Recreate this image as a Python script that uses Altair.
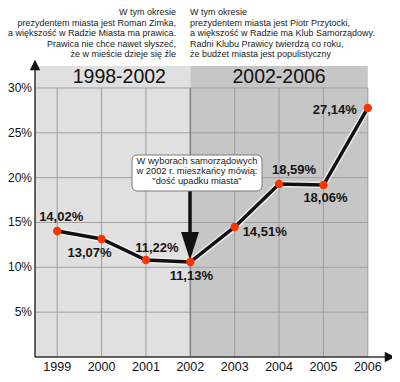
import altair as alt
import pandas as pd

# ---- data ----
years = [1999, 2000, 2001, 2002, 2003, 2004, 2005, 2006]
support = [14.05, 13.16, 10.82, 10.59, 14.50, 19.29, 19.18, 27.77]
support_labels = ["14,02%", "13,07%", "11,22%", "11,13%", "14,51%", "18,59%", "18,06%", "27,14%"]

y_ticks = [5, 10, 15, 20, 25, 30]
y_tick_labels = ["5%", "10%", "15%", "20%", "25%", "30%"]

period_names = ["1998-2002", "2002-2006"]
period_start = [1998.5, 2002]
period_end = [2002, 2006]
period_label_x = [2000.4, 2004.0]

left_note = ["W tym okresie", "prezydentem miasta jest Roman Zimka,",
             "a większość w Radzie Miasta ma prawica.",
             "Prawica nie chce nawet słyszeć,", "że w mieście dzieje się źle"]
right_note = ["W tym okresie", "prezydentem miasta jest Piotr Przytocki,",
              "a większość w Radzie ma Klub Samorządowy.",
              "Radni Klubu Prawicy twierdzą co roku,",
              "że budżet miasta jest populistyczny"]
box_note = ["W wyborach samorządowych", "w 2002 r. mieszkańcy mówią:",
            "\"dość upadku miasta\""]

# ---- styling ----
label_offsets = [(4, -14), (-12, 14), (11, -12), (1, 14), (30, 5), (15, -14), (2, 13), (-33, 2)]
period_colors = ["#e0e0e0", "#c6c6c6"]
FONT = "Liberation Sans"
X_MIN, X_MAX = 1998.5, 2006.5
Y_MAX = 33.12
BAND_TOP = 32.45
HEADER_Y = 31.23

xs = alt.Scale(domain=[X_MIN, X_MAX], nice=False, zero=False)
ys = alt.Scale(domain=[0, Y_MAX], nice=False, zero=False)


def X(f):
    return alt.X(f, type="quantitative", scale=xs, axis=None)


def Y(f):
    return alt.Y(f, type="quantitative", scale=ys, axis=None)


df = pd.DataFrame({"year": years, "support": support, "label": support_labels})
bands = pd.DataFrame({"name": period_names, "start": period_start, "end": period_end,
                      "mid": period_label_x, "color": period_colors})
bands["top"] = BAND_TOP
bands["bottom"] = 0
bands["hy"] = HEADER_Y
vgrid = pd.DataFrame({"year": years, "bottom": 0, "top": 30})
hgrid = pd.DataFrame({"v": y_ticks, "lab": y_tick_labels, "x0": X_MIN, "x1": 2006})
xt = pd.DataFrame({"year": years, "lab": [str(y) for y in years], "zero": 0})
one = pd.DataFrame({"k": [0]})

layers = []

layers.append(alt.Chart(bands).mark_rect().encode(
    x=X("start"), x2="end", y=Y("bottom"), y2="top",
    color=alt.Color("color:N", scale=None)))

layers.append(alt.Chart(hgrid).mark_rule(color="#a0a0a0", strokeWidth=1).encode(
    x=X("x0"), x2="x1", y=Y("v")))

layers.append(alt.Chart(vgrid).transform_filter(alt.datum.year != 2002).mark_rule(
    color="#9c9c9c", strokeWidth=1).encode(x=X("year"), y=Y("bottom"), y2="top"))
layers.append(alt.Chart(vgrid).transform_filter(alt.datum.year == 2002).mark_rule(
    color="#808080", strokeWidth=1.5).encode(x=X("year"), y=Y("bottom"), y2="top"))

layers.append(alt.Chart(bands).mark_text(font=FONT, fontSize=19.5, color="#111",
                                         baseline="middle").encode(
    x=X("mid"), y=Y("hy"), text="name:N"))

# axes
layers.append(alt.Chart(one).mark_rule(color="#333", strokeWidth=1.5).encode(
    x=alt.value(0), y=alt.value(297), x2=alt.value(352)))
layers.append(alt.Chart(one).mark_rule(color="#333", strokeWidth=1.5).encode(
    x=alt.value(0), y=alt.value(297), y2=alt.value(6)))
layers.append(alt.Chart(one).mark_point(shape="M-1,-1L1,0L-1,1Z", filled=True,
                                        color="#111", opacity=1, size=110).encode(
    x=alt.value(355), y=alt.value(297)))
layers.append(alt.Chart(one).mark_point(shape="M-1,1L0,-1L1,1Z", filled=True,
                                        color="#111", opacity=1, size=110).encode(
    x=alt.value(0), y=alt.value(5)))

# tick labels
layers.append(alt.Chart(hgrid).mark_text(font=FONT, fontSize=12, color="#111", align="right",
                                         baseline="middle", dx=-3).encode(
    x=X("x0"), y=Y("v"), text="lab:N"))
layers.append(alt.Chart(xt).mark_text(font=FONT, fontSize=12.5, color="#111", align="center",
                                      baseline="middle", dy=10).encode(
    x=X("year"), y=Y("zero"), text="lab:N"))

# data line
layers.append(alt.Chart(df).mark_line(color="#f4f4f4", strokeWidth=6.5, opacity=0.8).encode(
    x=X("year"), y=Y("support"), order="year:Q"))
layers.append(alt.Chart(df).mark_line(color="#111", strokeWidth=3.5).encode(
    x=X("year"), y=Y("support"), order="year:Q"))

# annotation arrow
layers.append(alt.Chart(one).mark_rule(color="#111", strokeWidth=3.5).encode(
    x=alt.value(155), y=alt.value(131), y2=alt.value(175)))
layers.append(alt.Chart(one).mark_point(shape="M-0.64,-1L0.64,-1L0,1Z", filled=True,
                                        color="#111", opacity=1, size=784).encode(
    x=alt.value(155), y=alt.value(186)))

layers.append(alt.Chart(df).mark_circle(color="#ff3300", opacity=1, size=70).encode(
    x=X("year"), y=Y("support")))

for yr, (dx, dy) in zip(years, label_offsets):
    layers.append(alt.Chart(df).transform_filter(alt.datum.year == yr).mark_text(
        font=FONT, fontSize=13, fontWeight="bold", color="#151515", dx=dx, dy=dy,
        baseline="middle").encode(x=X("year"), y=Y("support"), text="label:N"))

# annotation box
layers.append(alt.Chart(one).mark_rect(fill="white", stroke="#7a7a7a", strokeWidth=1,
                                       cornerRadius=5).encode(
    x=alt.value(97), x2=alt.value(227), y=alt.value(95), y2=alt.value(131)))
layers.append(alt.Chart(one).mark_text(font=FONT, fontSize=9.3, color="#222", align="center",
                                       baseline="top", lineHeight=9.8, text=box_note).encode(
    x=alt.value(162), y=alt.value(97)))

# top notes
layers.append(alt.Chart(one).mark_text(font=FONT, fontSize=9, color="#222", align="right",
                                       baseline="top", lineHeight=10.5, text=left_note).encode(
    x=alt.value(141), y=alt.value(-52)))
layers.append(alt.Chart(one).mark_text(font=FONT, fontSize=9, color="#222", align="left",
                                       baseline="top", lineHeight=10.5, text=right_note).encode(
    x=alt.value(155), y=alt.value(-52)))

chart = alt.layer(*layers).properties(
    width=355, height=297,
    padding={"left": 27, "top": 52, "right": 2, "bottom": 17},
    autosize=alt.AutoSizeParams(type="none"),
    background="white",
).configure_view(strokeWidth=0)

chart.save("out.html", embed_options={"renderer": "svg", "actions": False})
